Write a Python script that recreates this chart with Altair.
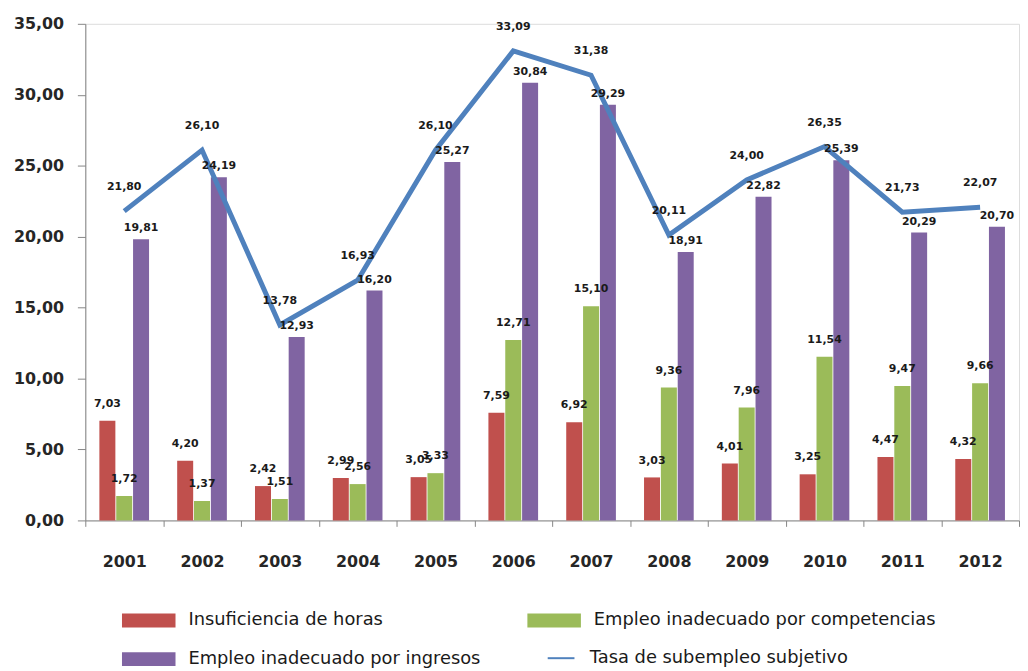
import altair as alt
import pandas as pd

years = ["2001", "2002", "2003", "2004", "2005", "2006", "2007", "2008", "2009", "2010", "2011", "2012"]
insuficiencia = [7.03, 4.20, 2.42, 2.99, 3.05, 7.59, 6.92, 3.03, 4.01, 3.25, 4.47, 4.32]
competencias = [1.72, 1.37, 1.51, 2.56, 3.33, 12.71, 15.10, 9.36, 7.96, 11.54, 9.47, 9.66]
ingresos = [19.81, 24.19, 12.93, 16.20, 25.27, 30.84, 29.29, 18.91, 22.82, 25.39, 20.29, 20.70]
tasa = [21.80, 26.10, 13.78, 16.93, 26.10, 33.09, 31.38, 20.11, 24.00, 26.35, 21.73, 22.07]

bar_series = [
    "Insuficiencia de horas",
    "Empleo inadecuado por competencias",
    "Empleo inadecuado por ingresos",
]
line_series = ["Tasa de subempleo subjetivo"]
bar_colors = ["#C0504D", "#9BBB59", "#8064A2"]
line_colors = ["#4F81BD"]
y_ticks = [0, 5, 10, 15, 20, 25, 30, 35]

rows = []
for name, vals in zip(bar_series, [insuficiencia, competencias, ingresos]):
    for yr, v in zip(years, vals):
        rows.append({"year": yr, "series": name, "value": v})
bars_df = pd.DataFrame(rows)
line_df = pd.DataFrame({"year": years, "value": tasa, "series": line_series[0]})

fmt = "replace(format(datum.value, '.2f'), '.', ',')"
AX_FONT = "DejaVu Sans"
LEG_FONT = "DejaVu Sans"

x_enc = alt.X(
    "year:N",
    sort=years,
    scale=alt.Scale(paddingInner=0, paddingOuter=0),
    axis=alt.Axis(
        title=None, labelAngle=0, tickBand="extent", tickSize=6, labelPadding=27,
        domainColor="#868686", tickColor="#868686", labelFont=AX_FONT,
        labelFontWeight="bold", labelFontSize=16, labelColor="#262626", grid=False,
    ),
)
y_enc = alt.Y(
    "value:Q",
    scale=alt.Scale(domain=[0, 35], nice=False),
    axis=alt.Axis(
        title=None, values=y_ticks, labelExpr=fmt, grid=False, tickSize=8, labelPadding=14,
        domainColor="#868686", tickColor="#868686", labelFont=AX_FONT,
        labelFontWeight="bold", labelFontSize=16, labelColor="#262626",
    ),
)
xoff = alt.XOffset(
    "series:N",
    sort=bar_series,
    scale=alt.Scale(domain=bar_series, paddingInner=0.05, paddingOuter=0.835),
)

bar_legend = alt.Legend(
    title=None, orient="none", legendX=49, legendY=587, columns=2, direction="horizontal",
    columnPadding=47, rowPadding=15, symbolSize=900, labelOffset=25,
    symbolType="M-1.8,-0.467H1.8V0.467H-1.8Z", symbolStrokeWidth=0,
    labelFont=LEG_FONT, labelFontSize=18, labelColor="#1a1a1a", labelLimit=400,
)
line_legend = alt.Legend(
    title=None, orient="none", legendX=455, legendY=624, symbolSize=900,
    labelOffset=22, symbolType="M-0.3,0H1.5", symbolStrokeWidth=2,
    labelFont=LEG_FONT, labelFontSize=18, labelColor="#1a1a1a", labelLimit=400,
)

bars = alt.Chart(bars_df).mark_bar().encode(
    x=x_enc, y=y_enc, xOffset=xoff,
    fill=alt.Fill("series:N", scale=alt.Scale(domain=bar_series, range=bar_colors),
                  legend=bar_legend, sort=bar_series),
)

line = alt.Chart(line_df).mark_line(strokeWidth=5, strokeJoin="miter").encode(
    x=x_enc, y=y_enc,
    stroke=alt.Stroke("series:N", scale=alt.Scale(domain=line_series, range=line_colors),
                      legend=line_legend),
)

text_props = dict(font=AX_FONT, fontWeight="bold", fontSize=11, color="#1a1a1a", baseline="middle")

lbl_low = alt.Chart(bars_df).transform_filter(
    alt.FieldOneOfPredicate(field="series", oneOf=bar_series[:2])
).transform_calculate(label=fmt).mark_text(dy=-17, **text_props).encode(
    x=x_enc, y=y_enc, xOffset=xoff, text="label:N"
)
lbl_purple = alt.Chart(bars_df).transform_filter(
    alt.FieldEqualPredicate(field="series", equal=bar_series[2])
).transform_calculate(label=fmt).mark_text(dy=-11, **text_props).encode(
    x=x_enc, y=y_enc, xOffset=xoff, text="label:N"
)
lbl_line = alt.Chart(line_df).transform_calculate(label=fmt).mark_text(dy=-24, **text_props).encode(
    x=x_enc, y=y_enc, text="label:N"
)

chart = alt.layer(bars, line, lbl_low, lbl_purple, lbl_line).properties(
    width=942, height=501, padding={"left": 5, "top": 5, "right": 0, "bottom": 5}
).configure_view(stroke=None).configure(background="white")

chart.save("out.html", embed_options={"renderer": "svg", "actions": False})
